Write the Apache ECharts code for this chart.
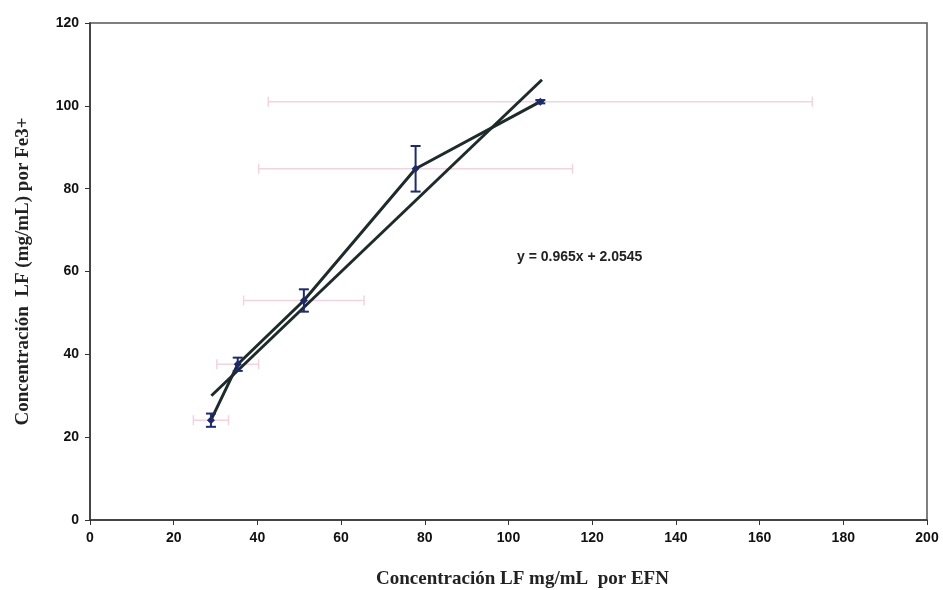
<!DOCTYPE html>
<html>
<head>
<meta charset="utf-8">
<script src="https://cdn.jsdelivr.net/npm/echarts@6/dist/echarts.min.js"></script>
<style>
  html, body { margin: 0; padding: 0; background: #fff; }
  #chart { width: 943px; height: 590px; }
</style>
</head>
<body>
<div id="chart"></div>
<script>
// datos
var xVals = [28.9, 35.3, 51.1, 77.8, 107.6];
var yVals = [24.1, 37.6, 53.0, 84.8, 101.0];
var yErr = [1.6, 1.6, 2.7, 5.5, 0.4];
var xErr = [4.2, 5.0, 14.4, 37.5, 65.0];
// recta de ajuste (extremos)
var trendX = [29, 108];
var trendY = [30.0, 106.3];
var eqText = 'y = 0.965x + 2.0545';

var chart = echarts.init(document.getElementById('chart'));

var points = xVals.map(function (x, i) { return [x, yVals[i]]; });
var errData = xVals.map(function (x, i) { return [x, yVals[i], xErr[i], yErr[i]]; });

function errRender(horizontal, color, width) {
  return function (params, api) {
    var x = api.value(0), y = api.value(1);
    var dx = api.value(2), dy = api.value(3);
    var a, b, cap = 5, kids = [];
    if (horizontal) {
      a = api.coord([x - dx, y]); b = api.coord([x + dx, y]);
      kids.push({ type: 'line', shape: { x1: a[0], y1: a[1], x2: b[0], y2: b[1] } });
      kids.push({ type: 'line', shape: { x1: a[0], y1: a[1] - cap, x2: a[0], y2: a[1] + cap } });
      kids.push({ type: 'line', shape: { x1: b[0], y1: b[1] - cap, x2: b[0], y2: b[1] + cap } });
    } else {
      a = api.coord([x, y - dy]); b = api.coord([x, y + dy]);
      kids.push({ type: 'line', shape: { x1: a[0], y1: a[1], x2: b[0], y2: b[1] } });
      kids.push({ type: 'line', shape: { x1: a[0] - cap, y1: a[1], x2: a[0] + cap, y2: a[1] } });
      kids.push({ type: 'line', shape: { x1: b[0] - cap, y1: b[1], x2: b[0] + cap, y2: b[1] } });
    }
    kids.forEach(function (k) { k.style = { stroke: color, lineWidth: width }; });
    return { type: 'group', children: kids };
  };
}

var option = {
  backgroundColor: '#fff',
  animation: false,
  grid: {
    left: 90, right: 16, top: 23, bottom: 70,
    outerBoundsMode: 'none',
    show: true, borderColor: '#555', borderWidth: 1.5
  },
  xAxis: {
    type: 'value', min: 0, max: 200, interval: 20,
    name: 'Concentración LF mg/mL  por EFN',
    nameLocation: 'middle', nameGap: 50,
    nameTextStyle: { fontFamily: 'Liberation Serif', fontWeight: 'bold', fontSize: 19, color: '#222', padding: [0, 0, 0, 28] },
    axisLine: { onZero: false, lineStyle: { color: '#333', width: 1.5 } },
    axisTick: { inside: false, length: 5, lineStyle: { color: '#333' } },
    axisLabel: { margin: 11, fontFamily: 'Liberation Sans', fontWeight: 'bold', fontSize: 14, color: '#111' },
    splitLine: { show: false }
  },
  yAxis: {
    type: 'value', min: 0, max: 120, interval: 20,
    name: 'Concentración  LF (mg/mL) por Fe3+',
    nameLocation: 'middle', nameGap: 57, nameRotate: 90,
    nameTextStyle: { fontFamily: 'Liberation Serif', fontWeight: 'bold', fontSize: 19, color: '#222' },
    axisLine: { show: true, lineStyle: { color: '#333', width: 1.5 } },
    axisTick: { show: true, length: 5, lineStyle: { color: '#333' } },
    axisLabel: { margin: 11, fontFamily: 'Liberation Sans', fontWeight: 'bold', fontSize: 14, color: '#111' },
    splitLine: { show: false }
  },
  series: [
    {
      type: 'custom', name: 'errX',
      renderItem: errRender(true, '#f2d4df', 1.5),
      data: errData, z: 1, silent: true
    },
    {
      type: 'line', name: 'ajuste',
      data: trendX.map(function (x, i) { return [x, trendY[i]]; }),
      showSymbol: false,
      lineStyle: { color: '#1f2b2b', width: 3 }, z: 3
    },
    {
      type: 'line', name: 'datos',
      data: points,
      symbol: 'diamond', symbolSize: 8,
      itemStyle: { color: '#1e2a60' },
      lineStyle: { color: '#1f2b2b', width: 3 }, z: 4
    },
    {
      type: 'custom', name: 'errY',
      renderItem: errRender(false, '#1e2a6e', 2),
      data: errData, z: 5, silent: true
    }
  ],
  graphic: [
    {
      type: 'text', left: 517, top: 250,
      style: { text: eqText, font: 'bold 14px "Liberation Sans"', fill: '#222' }
    }
  ]
};

chart.setOption(option);
</script>
</body>
</html>
